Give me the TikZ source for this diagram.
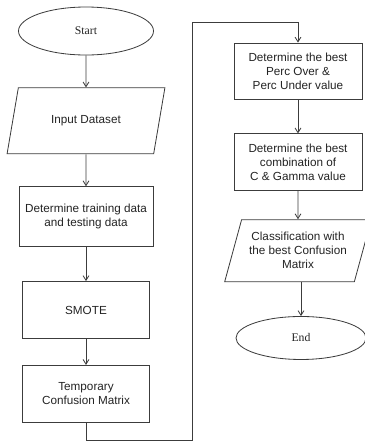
\documentclass[tikz,border=0pt]{standalone}
\usepackage{fontspec}
\setmainfont{Liberation Serif}
\setsansfont{Liberation Sans}
\usetikzlibrary{shapes.geometric, arrows.meta, positioning}
\definecolor{linegray}{RGB}{60, 60, 60}
\definecolor{textgray}{RGB}{35, 35, 35}

\begin{document}
\begin{tikzpicture}[
            x=0.03cm, y=-0.03cm,
            node distance=0.96cm,
            box/.style={draw=linegray, line width=0.7pt, minimum width=4.02cm, minimum height=1.8cm, align=center, inner sep=2pt, text=textgray, font=\sffamily\fontsize{10}{12}\selectfont},
            smallbox/.style={box, minimum width=3.81cm, minimum height=1.71cm},
            io/.style={draw=linegray, line width=0.7pt, trapezium, trapezium stretches=true, trapezium left angle=65, trapezium right angle=115, minimum width=4.75cm, minimum height=1.98cm, align=center, inner sep=1pt, text=textgray, font=\sffamily\fontsize{10}{12}\selectfont},
            term/.style={draw=linegray, line width=0.7pt, ellipse, minimum width=4.05cm, minimum height=1.44cm, text=textgray, font=\fontsize{10}{12}\selectfont},
            flow/.style={->, >={Straight Barb[length=4pt, width=5pt]}, line width=0.7pt, linegray}
        ]
            \useasboundingbox (0,0) rectangle (365,442);

            % left column
            \node[term] (start) at (86,31) {Start};
            \node[io, below=0.96cm of start] (input) {Input Dataset};
            \node[box, below=0.96cm of input] (split) {Determine training data\\and testing data};
            \node[smallbox, below=1.02cm of split] (smote) {SMOTE};
            \node[smallbox, below=0.78cm of smote] (tempcm) {Temporary\\Confusion Matrix};

            % right column
            \node[box, minimum width=3.84cm, minimum height=1.68cm] (perc) at (298,71) {Determine the best\\Perc Over \&\\Perc Under value};
            \node[box, minimum width=3.84cm, minimum height=1.71cm, below=1.02cm of perc] (gamma) {Determine the best\\combination of\\C \& Gamma value};
            \node[io, trapezium left angle=69, trapezium right angle=111, minimum width=4.4cm, minimum height=1.86cm, below=0.84cm of gamma] (classify) {Classification with\\the best Confusion\\Matrix};
            \node[term, minimum width=3.9cm, minimum height=1.29cm, below=1.02cm of classify, xshift=0.09cm] (end) {End};

            \coordinate (loopbottom) at (192,440.5);
            \coordinate (looptop) at (192,22);

            \draw[flow] (start) -- (input);
            \draw[flow] (input) -- (split);
            \draw[flow] (split) -- (smote);
            \draw[flow] (smote) -- (tempcm);
            \draw[flow] (tempcm.south) |- (loopbottom) -- (looptop) -| (perc.north);
            \draw[flow] (perc) -- (gamma);
            \draw[flow] (gamma) -- (classify);
            \draw[flow] (classify.south -| end.north) -- (end.north);
        \end{tikzpicture}
\end{document}
